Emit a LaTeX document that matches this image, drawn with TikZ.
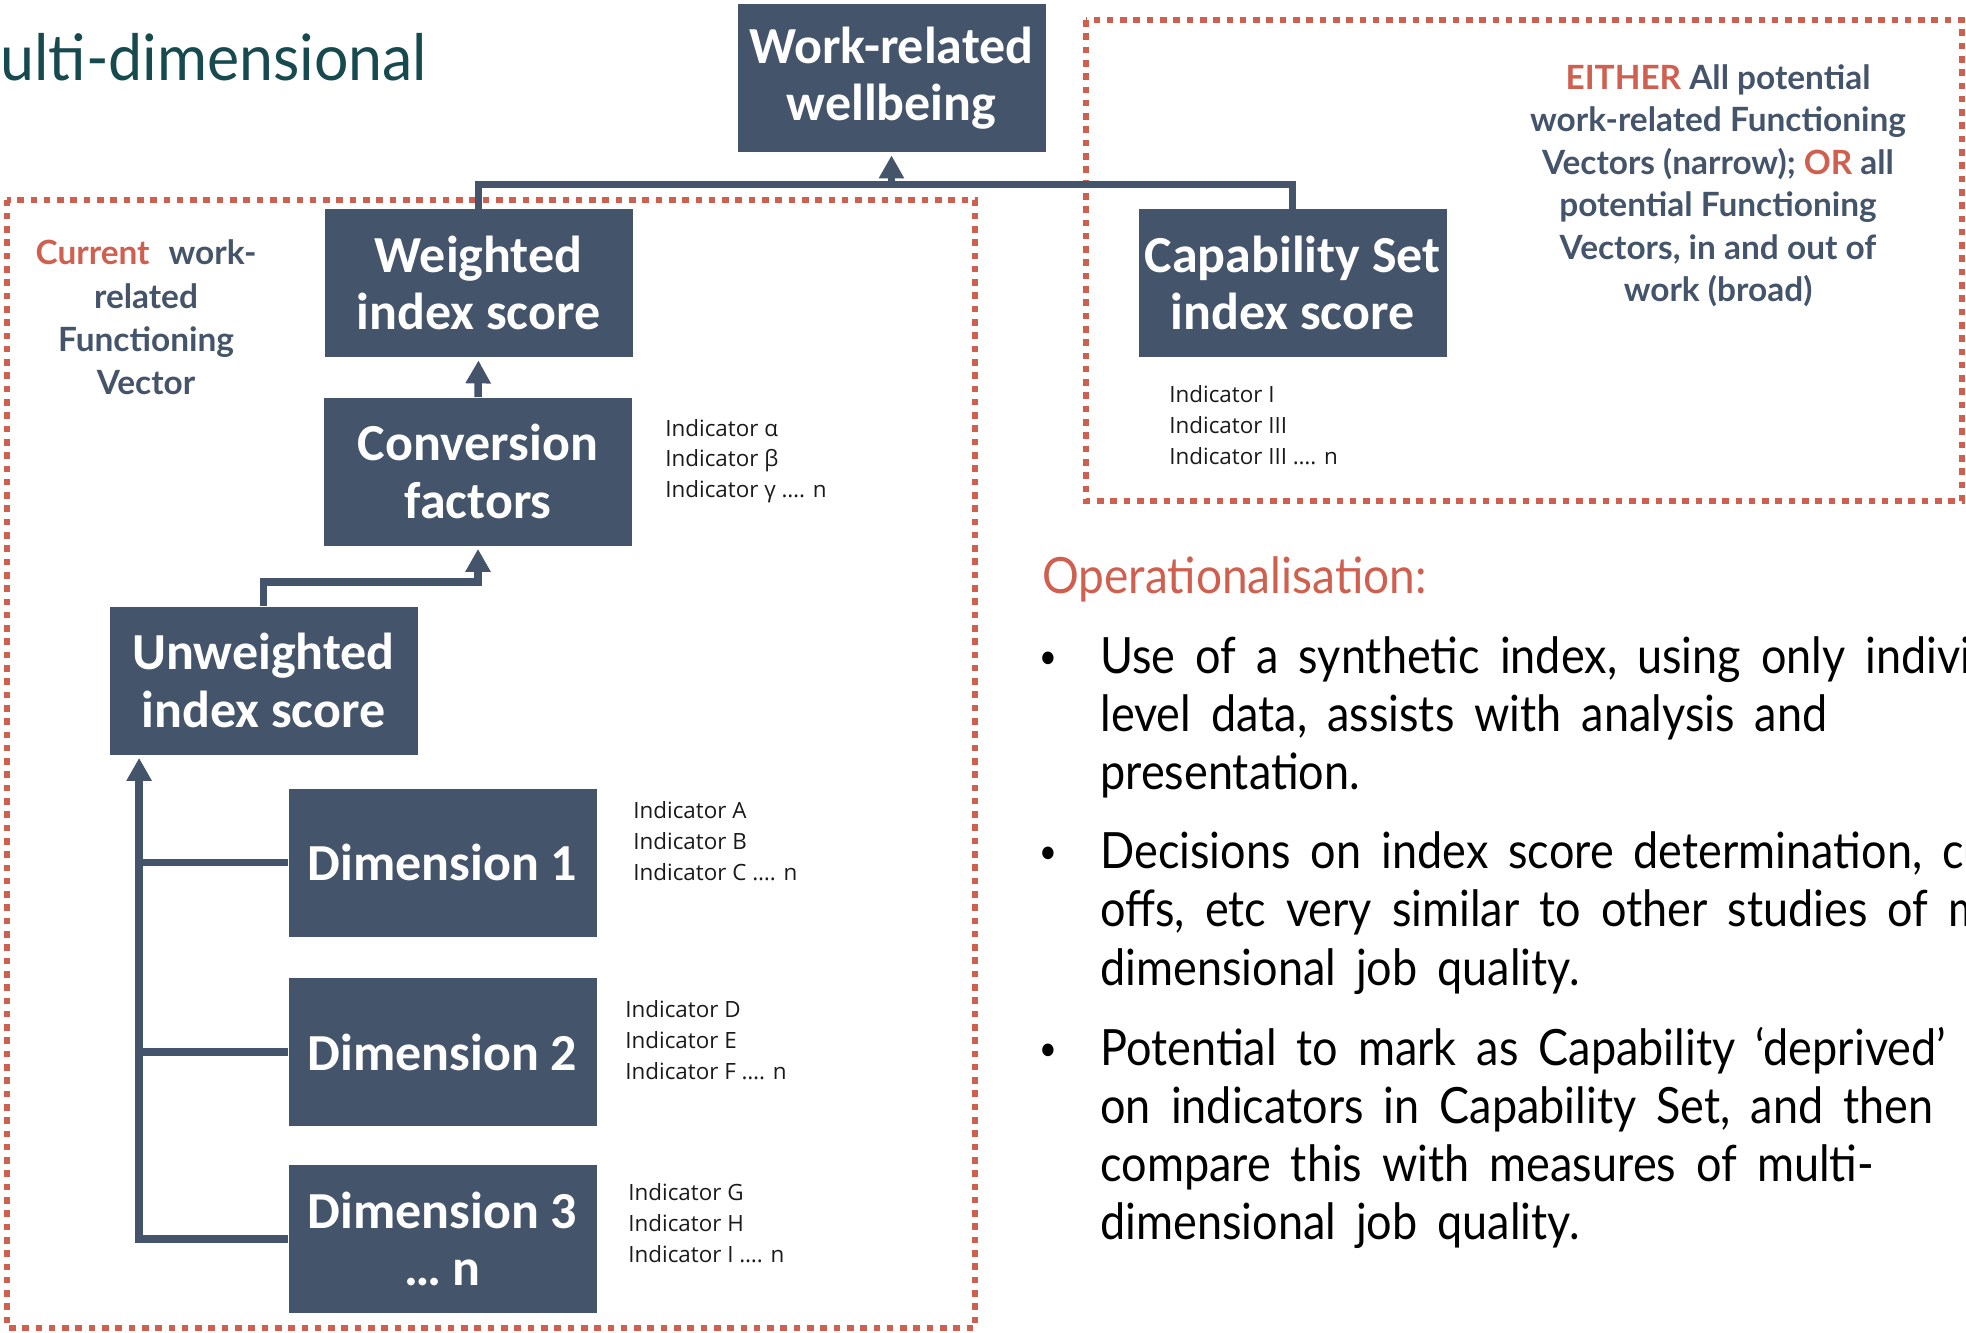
\documentclass[tikz,border=0pt]{standalone}
\usepackage{fontspec}
\setmainfont{Open Sans}
\newfontfamily\boxfont{Carlito}
\newfontfamily\labfont{Lato}
\newfontfamily\titlefont{Lato}[FakeStretch=0.95]
\newfontfamily\bodyfont{Lato}[FakeStretch=0.9]
\newfontfamily\opfont{Lato}[FakeStretch=0.92]
\newfontfamily\indfont{Open Sans}
\usetikzlibrary{arrows.meta}
\definecolor{boxc}{HTML}{44546A}
\definecolor{redc}{HTML}{CF5F4E}
\definecolor{tealc}{HTML}{174A4F}
\definecolor{indc}{HTML}{1A1A1A}
\begin{document}
\begin{tikzpicture}[x=0.5pt,y=-0.5pt,
  box/.style={fill=boxc, text=white, font=\boxfont\bfseries\fontsize{26pt}{28.75pt}\selectfont, align=center, inner sep=0pt, minimum width=154pt, minimum height=74pt},
  conn/.style={draw=boxc, line width=3.75pt},
  arr/.style={conn, -{Triangle[width=12pt,length=11.5pt]}, shorten >=1.5pt},
  frame/.style={draw=redc, line width=3pt, dash pattern=on 3.3pt off 3.35pt},
  ind/.style={font=\indfont\fontsize{11.2pt}{13pt}\selectfont, text=indc, anchor=base west, inner sep=0pt},
  lab/.style={font=\labfont\bfseries\fontsize{16.7pt}{20pt}\selectfont, text=boxc, anchor=base, inner sep=0pt},
  body/.style={font={\bodyfont\fontsize{25pt}{30pt}\selectfont\spaceskip=10pt\relax}, text=black, anchor=base west, inner sep=0pt},
  bullet/.style={font=\bodyfont\fontsize{17pt}{20pt}\selectfont, text=black, anchor=base, inner sep=0pt},
]
\useasboundingbox (0,0) rectangle (1966,1333);
\clip (0,0) rectangle (1966,1333);

% title
\node[font=\titlefont\fontsize{32pt}{36pt}\selectfont, text=tealc, anchor=base west, inner sep=0pt] (title) at (0,80) {ulti-dimensional};

% dashed frames
\draw[frame] (7,199.5) rectangle (975,1328);
\draw[frame] (1086,20) rectangle (1962,501);

% boxes
\node[box] (work) at (891.5,78) {Work-related\\wellbeing};
\node[box] (weighted) at (478.5,283) {Weighted\\index score};
\node[box] (conv) at (478,471.5) {Conversion\\factors};
\node[box] (unw) at (263.5,680.5) {Unweighted\\index score};
\node[box] (dim1) at (442.5,862.5) {Dimension 1};
\node[box] (dim2) at (442.5,1052) {Dimension 2};
\node[box] (dim3) at (442.5,1239) {Dimension 3\\\ldots\ n};
\node[box] (cap) at (1292.5,283) {Capability Set\\index score};

% connectors
\coordinate (bus) at (891.5,185.5);
\draw[conn] (weighted.north) |- ([yshift=12pt]cap.north) -- (cap.north);
\draw[arr] (bus) -- (work.south);
\draw[arr] (conv.north) -- (weighted.south);
\draw[arr] (unw.north) -- ++(0,-24) -| (conv.south);
\coordinate (trunk) at (140,1239);
\draw[arr] (dim3.west) -| ([xshift=15pt]unw.south west);
\draw[conn] (dim1.west) -- (dim1.west -| trunk);
\draw[conn] (dim2.west) -- (dim2.west -| trunk);

% indicator lists
\node[ind] (ia1) at (665,436) {Indicator α};
\node[ind] (ia2) at (665,466.5) {Indicator β};
\node[ind] (ia3) at (665,497) {Indicator γ …. n};
\node[ind] (iA1) at (633,818.5) {Indicator A};
\node[ind] (iA2) at (633,849.5) {Indicator B};
\node[ind] (iA3) at (633,880.5) {Indicator C …. n};
\node[ind] (iD1) at (625,1017) {Indicator D};
\node[ind] (iD2) at (625,1048) {Indicator E};
\node[ind] (iD3) at (625,1079) {Indicator F …. n};
\node[ind] (iG1) at (628,1200) {Indicator G};
\node[ind] (iG2) at (628,1231) {Indicator H};
\node[ind] (iG3) at (628,1262) {Indicator I …. n};
\node[ind] (iC1) at (1169,402) {Indicator I};
\node[ind] (iC2) at (1169,433) {Indicator III};
\node[ind] (iC3) at (1169,464) {Indicator III …. n};

% left label
\node[lab] (cur1) at (146,264.5) {\textcolor{redc}{Current}\hspace{9.5pt}work-};
\node[lab] (cur2) at (146,308.5) {related};
\node[lab] (cur3) at (146,351.5) {Functioning};
\node[lab] (cur4) at (146,394.5) {Vector};

% right label
\node[lab] (ei1) at (1718,89) {\textcolor{redc}{EITHER} All potential};
\node[lab] (ei2) at (1718,131.5) {work-related Functioning};
\node[lab] (ei3) at (1718,174) {Vectors (narrow); \textcolor{redc}{OR} all};
\node[lab] (ei4) at (1718,216.5) {potential Functioning};
\node[lab] (ei5) at (1718,259) {Vectors, in and out of};
\node[lab] (ei6) at (1718,301.5) {work (broad)};

% operationalisation
\node[body, font=\opfont\fontsize{25pt}{30pt}\selectfont, text=redc] (op) at (1042,593) {Operationalisation:};
\node[bullet] (b1) at (1048,668) {•};
\node[body] (l1) at (1100,673) {Use of a synthetic index, using only individual};
\node[body] (l2) at (1100,731) {level data, assists with analysis and};
\node[body] (l3) at (1100,789) {presentation.};
\node[bullet] (b2) at (1048,863) {•};
\node[body] (l4) at (1100,868) {Decisions on index score determination, cut-};
\node[body] (l5) at (1100,926.5) {offs, etc very similar to other studies of multi-};
\node[body] (l6) at (1100,985) {dimensional job quality.};
\node[bullet] (b3) at (1048,1060) {•};
\node[body] (l7) at (1100,1065) {Potential to mark as Capability ‘deprived’ based};
\node[body] (l8) at (1100,1123) {on indicators in Capability Set, and then};
\node[body] (l9) at (1100,1181) {compare this with measures of multi-};
\node[body] (l10) at (1100,1239) {dimensional job quality.};
\end{tikzpicture}
\end{document}
